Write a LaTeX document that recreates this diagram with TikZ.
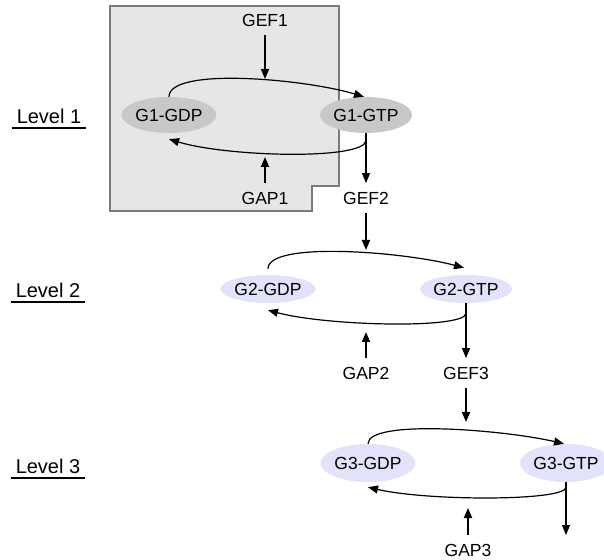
\documentclass[tikz,border=0pt]{standalone}
\usepackage{fontspec}
\setmainfont{Liberation Sans}
\usetikzlibrary{arrows.meta, shapes.geometric}

\definecolor{panelgray}{RGB}{230,230,230}
\definecolor{panelline}{RGB}{122,122,122}
\definecolor{gproteingray}{RGB}{200,200,200}
\definecolor{gproteinblue}{RGB}{226,226,250}

\tikzset{
    lbl/.style={inner xsep=3pt, inner ysep=8.5pt, font=\fontsize{17.5}{20}\selectfont},
    lvl/.style={inner xsep=5pt, inner ysep=4pt, anchor=base, font=\fontsize{20}{23}\selectfont},
    gprot/.style={ellipse, inner sep=0pt, minimum width=92pt, font=\fontsize{17.5}{20}\selectfont},
    regl/.style={line width=1.8pt, -{Triangle[length=10pt,width=8pt]}},
    cyc/.style={line width=1.2pt, -{Triangle[length=10pt,width=8pt]}},
    down/.style={line width=1.1pt, -{Triangle[length=10pt,width=8pt]}}
}

\begin{document}
\begin{tikzpicture}[x=1pt, y=1pt]
                \useasboundingbox (0,0) rectangle (604,559);
                \draw[panelline, line width=1.6pt, fill=panelgray] (110,553) -- (339,553) -- (339,373) -- (312,373) -- (312,348) -- (110,348) -- cycle;

                \node[lvl] (lv1) at (49,435) {Level 1};
                \node[lvl] (lv2) at (48,261) {Level 2};
                \node[lvl] (lv3) at (48,85) {Level 3};
                \draw[line width=1.8pt] (lv1.south west) -- (lv1.south east);
                \draw[line width=1.8pt] (lv2.south west) -- (lv2.south east);
                \draw[line width=1.8pt] (lv3.south west) -- (lv3.south east);

                \node[lbl] (gef1) at (265,539) {GEF1};
                \node[gprot, fill=gproteingray, minimum height=36pt] (gdp1) at (169,444) {G1-GDP};
                \node[gprot, fill=gproteingray, minimum height=36pt] (gtp1) at (366,444) {G1-GTP};
                \node[lbl] (gap1) at (265,361) {GAP1};
                \node[lbl] (gef2) at (366,361) {GEF2};
                \coordinate (top1) at (265,480);
                \coordinate (bot1) at (265,402);
                \draw[regl] (gef1) -- (top1);
                \draw[regl] (gap1) -- (bot1);
                \draw[cyc] (gdp1.north) .. controls +(0,30) and +(-60,18) .. ([xshift=-2pt]gtp1.north);
                \draw[cyc] ([yshift=-7pt]gtp1.south) .. controls +(0,-20) and +(60,-18) .. ([yshift=-6pt]gdp1.south);
                \draw[down] (gtp1.south) -- (gef2);

                \node[gprot, fill=gproteinblue, minimum height=28pt] (gdp2) at (268,270) {G2-GDP};
                \node[gprot, fill=gproteinblue, minimum height=28pt] (gtp2) at (466,270) {G2-GTP};
                \node[lbl] (gap2) at (366,186) {GAP2};
                \node[lbl] (gef3) at (466,186) {GEF3};
                \coordinate (top2) at (366,309);
                \coordinate (bot2) at (366,227);
                \draw[regl] (gef2) -- (top2);
                \draw[regl] (gap2) -- (bot2);
                \draw[cyc] ([yshift=6pt]gdp2.north) .. controls +(0,28) and +(-60,16) .. ([xshift=-2pt, yshift=7pt]gtp2.north);
                \draw[cyc] ([yshift=-10pt]gtp2.south) .. controls +(0,-16) and +(60,-16) .. ([yshift=-7pt]gdp2.south);
                \draw[down] (gtp2.south) -- (gef3);

                \node[gprot, fill=gproteinblue, minimum height=38pt] (gdp3) at (368,96) {G3-GDP};
                \node[gprot, fill=gproteinblue, minimum height=38pt] (gtp3) at (566,96) {G3-GTP};
                \node[lbl] (gap3) at (468,9) {GAP3};
                \coordinate (top3) at (466,137);
                \coordinate (bot3) at (468,51);
                \coordinate (end3) at (566,24);
                \draw[regl] (gef3) -- (top3);
                \draw[regl] (gap3) -- (bot3);
                \draw[cyc] (gdp3.north) .. controls +(0,25) and +(-60,14) .. ([xshift=-2pt]gtp3.north);
                \draw[cyc] ([yshift=-5pt]gtp3.south) .. controls +(0,-14) and +(60,-14) .. ([yshift=-5pt]gdp3.south);
                \draw[down] (gtp3.south) -- (end3);
            \end{tikzpicture}
\end{document}
